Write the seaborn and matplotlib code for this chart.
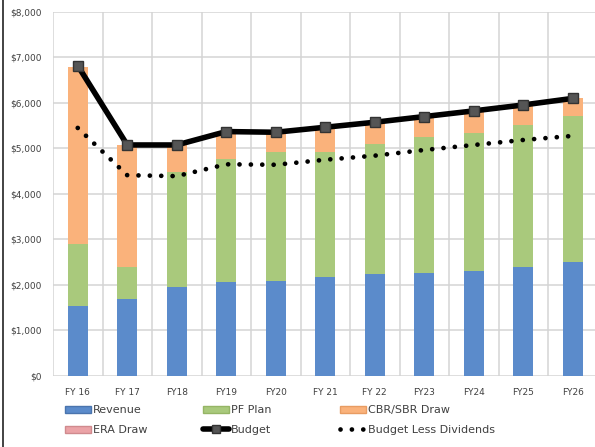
import numpy as np
import pandas as pd
import matplotlib
matplotlib.use("Agg")
import matplotlib.pyplot as plt
from matplotlib.patches import Patch
from matplotlib.lines import Line2D
from matplotlib.ticker import FuncFormatter, FixedLocator
import seaborn as sns

categories = ["FY 16", "FY 17", "FY18", "FY19", "FY20", "FY 21", "FY 22", "FY23", "FY24", "FY25", "FY26"]
revenue = [1540, 1690, 1960, 2070, 2090, 2165, 2235, 2265, 2310, 2385, 2495]
pf_plan = [1360, 690, 2530, 2690, 2840, 2765, 2865, 2980, 3025, 3130, 3215]
cbr_draw = [3900, 2695, 585, 610, 440, 550, 490, 455, 490, 420, 390]
era_draw = [0, 0, 0, 0, 0, 0, 0, 0, 0, 0, 0]
budget = [6820, 5075, 5075, 5370, 5355, 5465, 5575, 5700, 5825, 5955, 6100]
budget_less_div = [5450, 4410, 4390, 4650, 4640, 4750, 4840, 4965, 5075, 5185, 5275]

c_rev = "#5b8bcb"
c_pf = "#a9c97c"
c_cbr = "#fab27b"
c_era = "#eba3a7"
txt = "#404040"

sns.set_style("white")
plt.rcParams["font.family"] = ["DejaVu Sans"]

df = pd.DataFrame({
    "cat": categories,
    "rev": revenue,
    "pf": pf_plan,
    "cbr": cbr_draw,
    "era": era_draw,
})
df["t_rev"] = df["rev"]
df["t_pf"] = df["t_rev"] + df["pf"]
df["t_cbr"] = df["t_pf"] + df["cbr"]
df["t_era"] = df["t_cbr"] + df["era"]

fig = plt.figure(figsize=(5.95, 4.47), dpi=100)
ax = fig.add_axes([53 / 595, 71.3 / 447, 544.5 / 595, 363.7 / 447])

for col, color in [("t_era", c_era), ("t_cbr", c_cbr), ("t_pf", c_pf), ("t_rev", c_rev)]:
    sns.barplot(data=df, x="cat", y=col, color=color, width=0.4, ax=ax,
                saturation=1, edgecolor="none", linewidth=0)

dot_style = (0, (0.01, 2.4))
xpos = np.arange(len(categories))
sns.lineplot(x=xpos, y=budget, ax=ax, color="black", linewidth=4, marker="s",
             markersize=6.5, markerfacecolor="#555555", markeredgecolor="#333333",
             markeredgewidth=1, zorder=5)
sns.lineplot(x=xpos, y=budget_less_div, ax=ax, color="black", linewidth=3.4,
             linestyle=dot_style, dash_capstyle="round", zorder=5)

ax.set_xlim(-0.5, len(categories) - 0.5)
ax.set_ylim(0, 8000)
ax.set_yticks(np.arange(0, 8001, 1000))
ax.yaxis.set_major_formatter(FuncFormatter(lambda v, p: f"${int(v):,}"))
ax.xaxis.set_minor_locator(FixedLocator(np.arange(-0.5, len(categories), 1.0)))
ax.grid(axis="y", which="major", color="#d4d4d4", linewidth=1.1)
ax.grid(axis="x", which="minor", color="#d4d4d4", linewidth=1.1)
ax.grid(axis="x", which="major", visible=False)
ax.set_axisbelow(True)
for s in ax.spines.values():
    s.set_visible(False)
ax.set_xlabel("")
ax.set_ylabel("")
ax.tick_params(axis="both", which="both", length=0, labelsize=6.5, labelcolor=txt)
ax.tick_params(axis="y", pad=8)
ax.tick_params(axis="x", pad=9)

# left border line of the page
fig.add_artist(Line2D([3 / 595, 3 / 595], [0, 1], transform=fig.transFigure, color="#222222", linewidth=1.2))

leg_kw = dict(frameon=False, fontsize=8, labelcolor=txt, handlelength=2.3,
              handleheight=0.6, handletextpad=0.25, labelspacing=0.9, borderaxespad=0,
              borderpad=0, loc="upper left")
h1 = [Patch(facecolor=c_rev, edgecolor="#4a74ad"), Patch(facecolor=c_era, edgecolor="#d08a8e")]
h2 = [Patch(facecolor=c_pf, edgecolor="#95b565"),
      Line2D([], [], color="black", linewidth=4, marker="s", markersize=6,
             markerfacecolor="#555555", markeredgecolor="#333333")]
h3 = [Patch(facecolor=c_cbr, edgecolor="#e89c62"),
      Line2D([], [], color="black", linewidth=3.4, linestyle=dot_style, dash_capstyle="round")]
fig.legend(h1, ["Revenue", "ERA Draw"], bbox_to_anchor=(65 / 595, 1 - 405 / 447), **leg_kw)
fig.legend(h2, ["PF Plan", "Budget"], bbox_to_anchor=(203 / 595, 1 - 405 / 447), **leg_kw)
fig.legend(h3, ["CBR/SBR Draw", "Budget Less Dividends"], bbox_to_anchor=(340 / 595, 1 - 405 / 447), **leg_kw)

fig.savefig("out.png", dpi=100, facecolor="white")
